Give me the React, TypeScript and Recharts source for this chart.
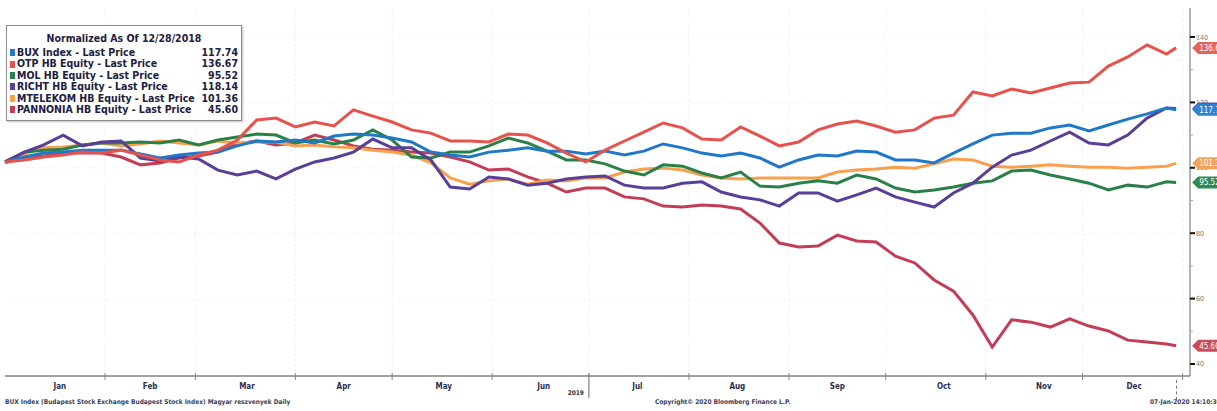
import React from 'react'
import { LineChart, Line, XAxis, YAxis, Legend, ReferenceLine } from 'recharts'

// trading-day positions (day of year 2019), sampled roughly every 6 days
const days = [1, 7, 13, 19, 25, 31, 37, 43, 49, 55, 61, 67, 73, 79, 85, 91, 97, 103, 109, 115, 121, 127, 133, 139, 145, 151, 157, 163, 169, 175, 181, 187, 193, 199, 205, 211, 217, 223, 229, 235, 241, 247, 253, 259, 265, 271, 277, 283, 289, 295, 301, 307, 313, 319, 325, 331, 337, 343, 349, 355, 361, 364]

const bux = [101.8, 103.3, 104.5, 104.8, 105.4, 105.4, 105.4, 104.2, 103.0, 103.9, 104.5, 104.8, 106.7, 108.2, 107.9, 108.5, 107.6, 109.7, 110.3, 110.0, 109.1, 107.9, 104.8, 103.9, 103.3, 104.8, 105.4, 106.1, 105.1, 105.1, 104.2, 105.1, 103.9, 105.1, 107.3, 106.1, 104.5, 103.6, 104.5, 103.0, 100.2, 102.4, 103.9, 103.6, 105.1, 104.8, 102.4, 102.4, 101.5, 104.5, 107.3, 110.0, 110.6, 110.6, 112.2, 113.1, 111.3, 113.1, 114.9, 116.5, 118.3, 117.74]
const otp = [101.8, 102.4, 103.3, 103.9, 104.8, 104.5, 105.4, 103.9, 102.4, 101.8, 103.9, 105.4, 108.5, 114.6, 115.2, 112.5, 114.0, 112.8, 117.7, 115.8, 114.0, 111.6, 110.6, 108.2, 108.2, 107.9, 110.3, 110.0, 107.6, 104.5, 101.8, 105.4, 108.2, 110.9, 113.7, 112.2, 108.8, 108.5, 112.5, 109.7, 106.7, 107.9, 111.6, 113.4, 114.3, 112.8, 110.9, 111.6, 115.2, 116.1, 123.2, 122.0, 124.1, 122.9, 124.4, 125.9, 126.2, 131.1, 133.9, 137.6, 134.8, 136.67]
const mol = [101.8, 104.8, 105.4, 105.7, 107.0, 107.6, 107.6, 107.9, 107.6, 108.5, 107.0, 108.5, 109.4, 110.3, 110.0, 107.6, 108.5, 107.3, 108.5, 111.6, 108.5, 103.3, 103.0, 104.8, 104.8, 106.7, 109.1, 107.6, 105.1, 102.4, 102.4, 101.2, 99.0, 97.8, 100.9, 100.5, 98.4, 96.9, 98.7, 94.4, 94.1, 95.3, 96.0, 95.3, 97.8, 96.6, 93.8, 92.6, 93.2, 94.1, 95.3, 96.0, 99.0, 99.3, 97.8, 96.6, 95.3, 93.2, 94.7, 94.1, 95.7, 95.52]
const richt = [101.8, 104.8, 107.0, 110.0, 106.7, 107.9, 108.2, 103.0, 102.1, 103.3, 102.7, 99.3, 97.8, 99.0, 96.6, 99.6, 101.8, 103.0, 104.8, 108.8, 106.1, 106.1, 102.4, 94.1, 93.5, 97.2, 96.6, 94.7, 95.3, 96.6, 97.2, 97.5, 94.7, 93.8, 93.8, 95.3, 95.7, 92.6, 91.1, 90.2, 88.3, 92.3, 92.3, 89.8, 91.7, 93.8, 91.1, 89.5, 88.0, 92.3, 95.3, 100.2, 103.9, 105.4, 108.2, 110.9, 107.6, 107.0, 110.0, 115.2, 118.3, 118.14]
const mtelekom = [101.5, 104.2, 106.1, 106.4, 107.0, 107.6, 106.7, 107.3, 108.2, 107.6, 107.0, 108.2, 107.6, 107.9, 107.9, 106.7, 107.0, 106.4, 106.1, 105.4, 104.8, 103.9, 101.5, 96.9, 95.0, 96.0, 96.6, 95.0, 96.3, 96.0, 96.9, 96.9, 98.7, 99.6, 99.9, 99.3, 97.8, 96.9, 96.6, 96.9, 96.9, 96.9, 96.9, 98.7, 99.3, 99.6, 100.2, 99.9, 101.2, 102.7, 102.4, 100.5, 100.2, 100.5, 100.9, 100.5, 100.2, 100.2, 99.9, 100.2, 100.5, 101.36]
const pannonia = [101.5, 103.3, 103.6, 104.5, 104.5, 104.5, 103.3, 100.9, 101.5, 103.0, 103.6, 104.8, 107.3, 108.2, 107.0, 107.6, 110.0, 108.5, 106.7, 105.7, 105.4, 104.8, 104.5, 103.3, 101.8, 99.3, 99.6, 97.2, 95.3, 92.6, 93.8, 93.8, 91.1, 90.5, 88.3, 88.0, 88.6, 88.3, 87.4, 83.1, 77.0, 75.8, 76.1, 79.4, 77.6, 77.3, 73.0, 70.9, 65.7, 62.3, 55.0, 45.2, 53.5, 52.8, 51.3, 53.8, 51.6, 50.1, 47.3, 46.7, 46.1, 45.60]

const monthLabels = ['Jan', 'Feb', 'Mar', 'Apr', 'May', 'Jun', 'Jul', 'Aug', 'Sep', 'Oct', 'Nov', 'Dec']
const monthLabelDays = [18, 46, 76, 106, 137, 168, 197, 228, 259, 292, 323, 351]
const monthStartDays = [32, 60, 91, 121, 152, 182, 213, 244, 274, 305, 335, 366]
const yTicks = [40, 50, 60, 70, 80, 90, 100, 110, 120, 130, 140]

const series = [
  { key: 'bux', name: 'BUX Index - Last Price', last: '117.74', color: '#1f78c8', tag: '#2d83d4' },
  { key: 'otp', name: 'OTP HB Equity - Last Price', last: '136.67', color: '#e8524c', tag: '#e2645e' },
  { key: 'mol', name: 'MOL HB Equity - Last Price', last: '95.52', color: '#2a8048', tag: '#2f8a55' },
  { key: 'richt', name: 'RICHT HB Equity - Last Price', last: '118.14', color: '#5a3f98', tag: '#5f4aa0' },
  { key: 'mtelekom', name: 'MTELEKOM HB Equity - Last Price', last: '101.36', color: '#f7a04e', tag: '#f1a45c' },
  { key: 'pannonia', name: 'PANNONIA HB Equity - Last Price', last: '45.60', color: '#c23d55', tag: '#cc4a5c' },
]
// paint order: blue/red end up on top, as in the terminal screenshot
const drawOrder = ['pannonia', 'mtelekom', 'mol', 'richt', 'bux', 'otp']

const data = days.map((d, i) => ({
  day: d,
  bux: bux[i],
  otp: otp[i],
  mol: mol[i],
  richt: richt[i],
  mtelekom: mtelekom[i],
  pannonia: pannonia[i],
}))

const font = '"DejaVu Sans Condensed", "DejaVu Sans", sans-serif'

function XTick(props: any) {
  const { x, y, payload } = props
  const li = monthLabelDays.indexOf(payload.value)
  if (li >= 0) {
    return (
      <text x={x} y={y + 13} textAnchor="middle" fontSize={8} fontWeight="bold" fill="#2a3050" fontFamily={font}>
        {monthLabels[li]}
      </text>
    )
  }
  if (payload.value === 182) {
    return (
      <g>
        <line x1={x} x2={x} y1={y - 3} y2={y + 22} stroke="#666" />
        <text x={x - 5} y={y + 19} textAnchor="end" fontSize={6.5} fontWeight="bold" fill="#333" fontFamily={font}>2019</text>
      </g>
    )
  }
  return <line x1={x} x2={x} y1={y - 3} y2={y + 4} stroke="#888" />
}

function YTick(props: any) {
  const { x, y, payload } = props
  const v = payload.value
  if (v % 20 === 0) {
    return (
      <g>
        <rect x={x} y={y - 1} width={5} height={2} fill="#111" />
        <text x={x + 6} y={y + 2.5} fontSize={7} fill="#777" fontFamily={font}>{v}</text>
      </g>
    )
  }
  return <line x1={x} x2={x + 3} y1={y} y2={y} stroke="#aaa" />
}

function tagLabel(color: string, text: string) {
  return (props: any) => {
    const { x, y, index } = props
    if (index !== days.length - 1) return null
    const left = x + 16
    return (
      <g>
        <path d={`M${left},${y} L${left + 6},${y - 6} L${left + 40},${y - 6} L${left + 40},${y + 6} L${left + 6},${y + 6} Z`} fill={color} />
        <text x={left + 7} y={y + 3} fontSize={8} fill="#fff" fontFamily={font}>{text}</text>
      </g>
    )
  }
}

function LegendBox() {
  return (
    <div
      style={{
        width: 236,
        boxSizing: 'border-box',
        border: '1px solid #8d8d8d',
        background: '#fff',
        boxShadow: '1px 1px 2px rgba(0,0,0,0.25)',
        padding: '5px 3px 5px 3px',
        fontFamily: font,
        fontSize: 10.5,
        fontWeight: 'bold',
        color: '#1d2040',
      }}
    >
      <div style={{ textAlign: 'center', lineHeight: '14px', marginBottom: 2 }}>Normalized As Of 12/28/2018</div>
      {series.map((s) => (
        <div key={s.key} style={{ display: 'flex', alignItems: 'center', lineHeight: '11.4px', height: 11.4 }}>
          <span style={{ width: 5, height: 7, background: s.color, marginRight: 2, flex: 'none' }} />
          <span style={{ flex: 1, whiteSpace: 'nowrap', overflow: 'hidden' }}>{s.name}</span>
          <span style={{ flex: 'none', textAlign: 'right', marginLeft: 2 }}>{s.last}</span>
        </div>
      ))}
    </div>
  )
}

export default function App() {
  return (
    <div style={{ position: 'absolute', left: 0, top: 0, width: 1217, height: 411, background: '#fff', overflow: 'hidden' }}>
      <LineChart width={1217} height={411} data={data} margin={{ top: 8, right: 0, bottom: 15, left: 5 }}>
        {monthStartDays.map((d) => (
          <ReferenceLine key={'v' + d} x={d} stroke="#e9edf3" strokeDasharray="2 3" />
        ))}
        {[60, 80, 100, 120, 140].map((v) => (
          <ReferenceLine key={'h' + v} y={v} stroke="#eef1f5" strokeDasharray="2 3" />
        ))}
        <XAxis
          dataKey="day"
          type="number"
          domain={[1, 368.3]}
          ticks={[...monthLabelDays, ...monthStartDays].sort((a, b) => a - b)}
          interval={0}
          height={20}
          tickLine={false}
          tickSize={0}
          tickMargin={0}
          axisLine={{ stroke: '#444' }}
          tick={<XTick />}
        />
        <YAxis
          orientation="right"
          type="number"
          domain={[36.33, 148.87]}
          ticks={yTicks}
          interval={0}
          width={27}
          tickLine={false}
          tickSize={0}
          tickMargin={0}
          axisLine={{ stroke: '#666' }}
          tick={<YTick />}
          allowDataOverflow
        />
        <Legend
          layout="vertical"
          align="center"
          verticalAlign="middle"
          wrapperStyle={{ left: 6, top: 25 }}
          content={() => <LegendBox />}
        />
        {drawOrder.map((k) => {
          const s = series.find((e) => e.key === k)!
          return (
            <Line
              key={s.key}
              type="linear"
              dataKey={s.key}
              name={s.name}
              stroke={s.color}
              strokeWidth={3}
              dot={false}
              isAnimationActive={false}
              label={tagLabel(s.tag, s.last)}
            />
          )
        })}
      </LineChart>
      <div style={{ position: 'absolute', left: 1176, top: 380, height: 20, borderLeft: '1px dashed #777' }} />
      <div style={{ position: 'absolute', left: 5, top: 398, fontFamily: font, fontSize: 6.5, fontWeight: 'bold', color: '#3a3f5a', whiteSpace: 'nowrap' }}>
        BUX Index (Budapest Stock Exchange Budapest Stock Index) Magyar reszvenyek Daily
      </div>
      <div style={{ position: 'absolute', left: 655, top: 398, fontFamily: font, fontSize: 6.5, fontWeight: 'bold', color: '#3a3f5a', whiteSpace: 'nowrap' }}>
        Copyright© 2020 Bloomberg Finance L.P.
      </div>
      <div style={{ position: 'absolute', left: 1150, top: 398, fontFamily: font, fontSize: 6.5, fontWeight: 'bold', color: '#3a3f5a', whiteSpace: 'nowrap' }}>
        07-Jan-2020 14:10:30
      </div>
    </div>
  )
}
